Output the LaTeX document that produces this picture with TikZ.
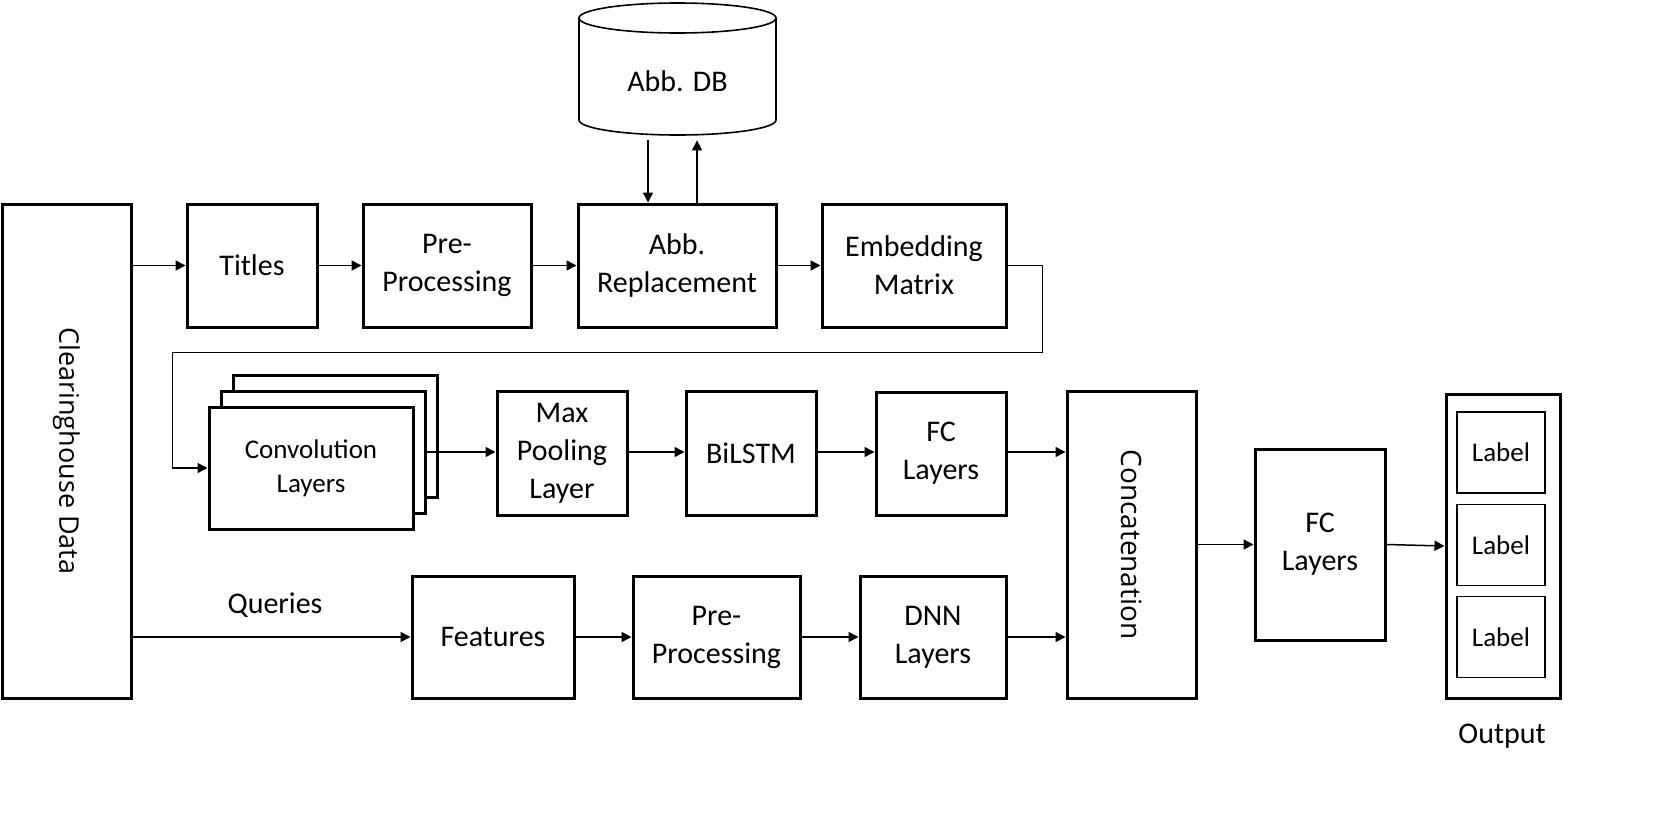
\documentclass[tikz,border=0pt]{standalone}
\usepackage{fontspec}
\setmainfont{Carlito}
\newfontfamily\osans{Open Sans}
\usetikzlibrary{arrows.meta,calc}
\tikzset{
  box/.style={draw, line width=1.5pt, align=center, inner sep=0pt, font=\fontsize{15}{19}\selectfont},
  smallbox/.style={draw, line width=0.8pt, align=center, inner sep=0pt, font=\fontsize{13.5}{17}\selectfont},
  arr/.style={line width=0.75pt, -{Triangle[length=5pt,width=5pt]}},
  thinarr/.style={line width=0.6pt, -{Triangle[length=5pt,width=5pt]}},
  plain/.style={font=\fontsize{15}{19}\selectfont, inner sep=0pt},
  rot/.style={rotate=-90, font=\osans\fontsize{14}{16}\selectfont, inner sep=0pt}
}
\begin{document}
\begin{tikzpicture}[x=0.5pt,y=-0.5pt]
\useasboundingbox (0,0) rectangle (1654,815);
% cylinder
\draw[line width=0.8pt] (677.5,18) ellipse [x radius=98.5, y radius=15];
\draw[line width=0.8pt] (579,18) -- (579,120) arc[start angle=180, end angle=0, x radius=98.5, y radius=15] -- (776,18);
\node[minimum width=98.5pt, minimum height=54pt, inner sep=0pt, font=\fontsize{15}{19}\selectfont] (db) at (677.5,81) {Abb. DB};

\node[box, minimum width=64.5pt, minimum height=247pt] (clear) at (66.5,451) {};
\node[rot, font=\osans\fontsize{13.5}{16}\selectfont] at (clear.center) {Clearinghouse Data};

\node[box, minimum width=65pt, minimum height=61.5pt] (titles) at (252,265.5) {Titles};
\node[box, minimum width=84pt, minimum height=61.5pt] (pre1) at (447,265.5) {Pre-\\Processing};
\node[box, minimum width=99pt, minimum height=61.5pt] (abb) at (677,265.5) {Abb.\\Replacement};
\node[box, minimum width=92pt, minimum height=61.5pt] (emb) at (914,265.5) {Embedding\\Matrix};

\node[box, fill=white, minimum width=102pt, minimum height=61pt] (back) at (335,436) {};
\node[box, fill=white, minimum width=102pt, minimum height=61pt] (mid) at (323,452) {};
\node[box, fill=white, minimum width=102pt, minimum height=61pt, font=\fontsize{13.5}{17}\selectfont] (front) at (311,468) {Convolution\\Layers};

\node[box, minimum width=65pt, minimum height=62pt] (pool) at (562,453) {Max\\Pooling\\Layer};
\node[box, minimum width=65pt, minimum height=62pt] (bilstm) at (751,453) {BiLSTM};
\node[box, minimum width=65pt, minimum height=61.5pt] (fc1) at (941,453.5) {FC\\Layers};

\node[box, minimum width=64.5pt, minimum height=153.5pt] (concat) at (1131.5,544.5) {};
\node[rot] at (concat.center) {Concatenation};

\node[box, minimum width=65pt, minimum height=95.5pt] (fc2) at (1320,544.5) {FC\\Layers};

\node[box, minimum width=57pt, minimum height=152pt] (out) at (1503,546) {};
\node[smallbox, minimum width=44pt, minimum height=40.5pt] (l1) at (1501,452.5) {Label};
\node[smallbox, minimum width=44pt, minimum height=40.5pt] (l2) at (1501,545) {Label};
\node[smallbox, minimum width=44pt, minimum height=40.5pt] (l3) at (1501,637) {Label};
\node[plain] (outlbl) at (1502,736) {Output};

\node[box, minimum width=81pt, minimum height=61pt] (feat) at (493,637) {Features};
\node[box, minimum width=83.5pt, minimum height=61pt] (pre2) at (716.5,637) {Pre-\\Processing};
\node[box, minimum width=73pt, minimum height=61pt] (dnn) at (933,637) {DNN\\Layers};
\node[plain] (queries) at (275,605) {Queries};

% arrows top row
\draw[arr] (clear.east |- titles.west) -- (titles.west);
\draw[arr] (titles.east) -- (pre1.west);
\draw[arr] (pre1.east) -- (abb.west);
\draw[arr] (abb.east) -- (emb.west);
\draw[arr] ($(db.south)+(-29.5,5)$) -- ($(abb.north)+(-29,0)$);
\draw[arr] ($(abb.north)+(20,0)$) -- ($(db.south)+(19.5,5)$);
% feedback
\coordinate (fbA) at ($(emb.east)+(35,0)$);
\coordinate (fbB) at ($(front.west)+(-35,0)$);
\draw[thinarr] (emb.east) -- (fbA) -- ($(fbA)+(0,87)$) -| (fbB) -- (front.west);
% middle row
\draw[arr] (mid.east) -- (mid.east -| pool.west);
\draw[arr] (mid.east -| pool.east) -- (mid.east -| bilstm.west);
\draw[arr] (mid.east -| bilstm.east) -- (mid.east -| fc1.west);
\draw[arr] (mid.east -| fc1.east) -- (mid.east -| concat.west);
% bottom row
\draw[arr] (clear.east |- feat.west) -- (feat.west);
\draw[arr] (feat.east) -- (pre2.west);
\draw[arr] (pre2.east) -- (dnn.west);
\draw[arr] (dnn.east) -- (dnn.east -| concat.west);
% right
\draw[arr] (concat.east) -- (fc2.west);
\draw[arr] (fc2.east) -- (out.west);
\end{tikzpicture}
\end{document}
